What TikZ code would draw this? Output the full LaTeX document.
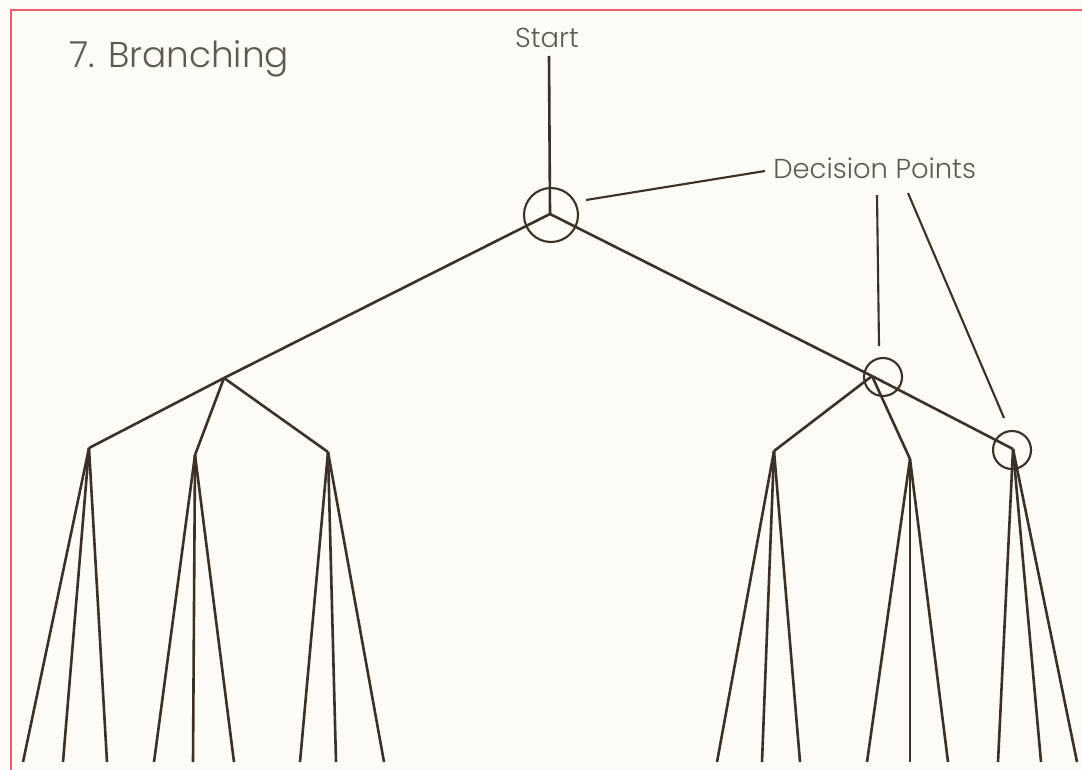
\documentclass[tikz,border=0pt]{standalone}
\usepackage{fontspec}
\newfontfamily\labelfont{Poppins Light}
\usetikzlibrary{calc}

\definecolor{twig}{HTML}{3B3129}
\definecolor{ink}{HTML}{5E5953}
\definecolor{border}{HTML}{EC5B6E}
\definecolor{paper}{HTML}{FDFBF6}

\begin{document}
\begin{tikzpicture}[x=0.025cm, y=-0.025cm]
		\tikzstyle{branch}=[draw=twig, line width=1.85pt, line join=round]
		\tikzstyle{leader}=[draw=twig, line width=1.5pt]
		\tikzstyle{decision}=[circle, draw=twig, line width=1.5pt, inner sep=0pt]
		\tikzstyle{caption}=[text=ink, inner sep=0pt, font=\labelfont\fontsize{19.5}{23}\selectfont]
		% page with the red border
		\clip (0,0) rectangle (1082,769);
		\fill[paper] (0,0) rectangle (1082,769);
		\draw[border, line width=1.5pt] (11,10) rectangle (1120,820);
		\node[caption, anchor=base west, font=\labelfont\fontsize{25.5}{30}\selectfont] (title) at (69,67) {7. Branching};
		\node[caption, anchor=base] (start) at (547,47) {Start};
		\node[caption, anchor=base west] (dp) at (773,178) {Decision Points};
		% branch points
		\coordinate (top) at (549,56);
		\coordinate (root) at (550,214);
		\coordinate (L)  at (224,378);
		\coordinate (R1) at (872,376);
		\coordinate (R2) at (1013,449);
		\coordinate (la) at (89,448);
		\coordinate (lb) at (195,455);
		\coordinate (lc) at (328,452);
		\coordinate (ra) at (774,451);
		\coordinate (rb) at (910,459);
		% decision circles
		\node[decision, minimum size=1.35cm] (d1) at (551,215) {};
		\node[decision, minimum size=0.95cm] (d2) at (883,377) {};
		\node[decision, minimum size=0.95cm] (d3) at (1012,450) {};
		\path[branch]
		(top) edge (root)
		(root) edge (L) edge (R1)
		(R1) edge (R2) edge (ra) edge (rb)
		(L) edge (la) edge (lb) edge (lc);
		\foreach \p/\xa/\xb/\xc in {la/23/63/107, lb/154/193/234, lc/300/336/384,
			ra/717/762/800, rb/867/910/948, R2/998/1041/1077}{
			\coordinate (\p-1) at (\xa,762);
			\coordinate (\p-2) at (\xb,762);
			\coordinate (\p-3) at (\xc,762);
			\path[branch] (\p) edge (\p-1) edge (\p-2) edge (\p-3);
		}
		% leaders from the label
		\coordinate (dp1) at (765,171);
		\coordinate (dp2) at (877,195);
		\coordinate (dp3) at (908,193);
		\coordinate (tip1) at (586,200);
		\coordinate (tip2) at (879,346);
		\coordinate (tip3) at (1004,418);
		\path[leader]
		(dp1) edge (tip1)
		(dp2) edge (tip2)
		(dp3) edge (tip3);
	\end{tikzpicture}
\end{document}
